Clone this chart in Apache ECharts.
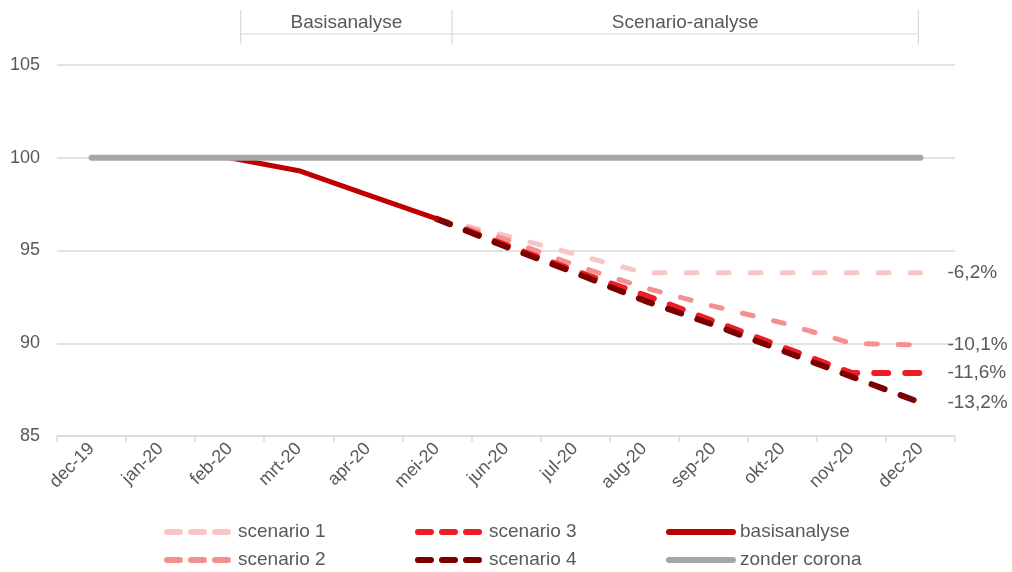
<!DOCTYPE html>
<html>
<head>
<meta charset="utf-8">
<script src="https://cdn.jsdelivr.net/npm/echarts@6/dist/echarts.min.js"></script>
<style>
html,body{margin:0;padding:0;background:#fff;}
#chart{width:1012px;height:572px;}
</style>
</head>
<body>
<div id="chart"></div>
<script>
// ---- data ----
const categories = ['dec-19','jan-20','feb-20','mrt-20','apr-20','mei-20','jun-20','jul-20','aug-20','sep-20','okt-20','nov-20','dec-20'];
const zonderCorona = [100,100,100,100,100,100,100,100,100,100,100,100,100];
const basisanalyse = [null,null,100,99.3,98.0,96.7,null,null,null,null,null,null,null];
const scenario1 = [null,null,null,null,null,96.7,95.8,94.8,93.8,93.8,93.8,93.8,93.8];
const scenario2 = [null,null,null,null,null,96.7,95.6,94.2,93.0,92.0,91.1,90.0,89.9];
const scenario3 = [null,null,null,null,null,96.7,95.3,93.9,92.6,91.2,89.8,88.4,88.4];
const scenario4 = [null,null,null,null,null,96.7,95.2,93.8,92.3,91.0,89.6,88.2,86.8];
const endLabels = ['-6,2%','-10,1%','-11,6%','-13,2%'];
const seriesNames = ['scenario 1','scenario 2','scenario 3','scenario 4','basisanalyse','zonder corona'];
const phases = [
  {name:'Basisanalyse', from:'feb-20', to:'mei-20'},
  {name:'Scenario-analyse', from:'mei-20', to:'dec-20'}
];
const yMin = 85, yMax = 105, yStep = 5;

// ---- styling ----
const FONT = '"Liberation Sans", Arial, sans-serif';
const TXT = '#595959';
const GRID = '#d9d9d9';
const colors = ['#f8c6c6','#f49090','#ee1c24','#7b0000','#c00000','#a6a6a6'];

function dashed(name, data, color, width, dash, label) {
  return {
    name, type:'line', data, symbol:'none', connectNulls:false,
    lineStyle:{color, width, type:dash, cap:'round', join:'round'},
    itemStyle:{color},
    endLabel:{show:true, formatter:label, color:TXT, fontSize:19, fontFamily:FONT, distance:27},
    emphasis:{disabled:true}
  };
}

const legendBase = {
  orient:'vertical', top:522, height:60, padding:0, itemWidth:64, itemHeight:14, itemGap:8,
  textStyle:{color:TXT, fontSize:19, fontFamily:FONT, lineHeight:20, padding:[0,0,0,2]},
  itemStyle:{opacity:0},
  selectedMode:false
};

const chart = echarts.init(document.getElementById('chart'), null, {renderer:'canvas'});
chart.setOption({
  animation:false,
  color:colors,
  grid:{left:57, right:57, top:65, bottom:136, containLabel:false},
  xAxis:{
    type:'category', data:categories, boundaryGap:true,
    axisLine:{lineStyle:{color:GRID, width:1.5}},
    axisTick:{show:true, length:6, interval:0, lineStyle:{color:GRID, width:1.5}},
    axisLabel:{rotate:45, color:TXT, fontSize:18, fontFamily:FONT, margin:10, interval:0}
  },
  yAxis:{
    type:'value', min:yMin, max:yMax, interval:yStep,
    axisLine:{show:false}, axisTick:{show:false},
    axisLabel:{color:TXT, fontSize:18, fontFamily:FONT, margin:17},
    splitLine:{lineStyle:{color:GRID, width:1.5}}
  },
  legend:[
    Object.assign({}, legendBase, {left:164, data:[seriesNames[0], seriesNames[1]], lineStyle:{type:[13,11], cap:'round', width:6}}),
    Object.assign({}, legendBase, {left:415, data:[seriesNames[2], seriesNames[3]], lineStyle:{type:[13,11], cap:'round', width:6}}),
    Object.assign({}, legendBase, {left:666, data:[seriesNames[4], seriesNames[5]], lineStyle:{width:6, cap:'round'}})
  ],
  series:[
    dashed(seriesNames[0], scenario1, colors[0], 5, [11,21], endLabels[0]),
    dashed(seriesNames[1], scenario2, colors[1], 5, [11,21], endLabels[1]),
    dashed(seriesNames[2], scenario3, colors[2], 6, [14,17], endLabels[2]),
    dashed(seriesNames[3], scenario4, colors[3], 6, [14,17], endLabels[3]),
    {name:seriesNames[4], type:'line', data:basisanalyse, symbol:'none',
     lineStyle:{color:colors[4], width:5, cap:'round', join:'round'}, itemStyle:{color:colors[4]}, emphasis:{disabled:true}},
    {name:seriesNames[5], type:'line', data:zonderCorona, symbol:'none',
     lineStyle:{color:colors[5], width:6, cap:'round'}, itemStyle:{color:colors[5]}, emphasis:{disabled:true}}
  ]
});

// ---- phase bracket at top, positioned from the category axis ----
function catX(name, shift) {
  const i = categories.indexOf(name);
  const a = chart.convertToPixel({xAxisIndex:0}, i);
  const b = chart.convertToPixel({xAxisIndex:0}, i + 1 < categories.length ? i + 1 : i - 1);
  const band = Math.abs(b - a);
  return a + shift * band;
}
const shifts = {'feb-20':0.16, 'mei-20':0.22, 'dec-20':-0.03};
const lineY = 34, tickTop = 10, tickBottom = 44, textY = 23;
const gfx = [];
const xs = [catX(phases[0].from, shifts[phases[0].from])];
phases.forEach(p => xs.push(catX(p.to, shifts[p.to])));
gfx.push({type:'line', shape:{x1:xs[0], y1:lineY, x2:xs[xs.length-1], y2:lineY}, style:{stroke:GRID, lineWidth:1.2}});
xs.forEach(x => gfx.push({type:'line', shape:{x1:x, y1:tickTop, x2:x, y2:tickBottom}, style:{stroke:GRID, lineWidth:1.2}}));
phases.forEach((p, k) => {
  gfx.push({type:'text', x:(xs[k] + xs[k+1]) / 2, y:textY,
    style:{text:p.name, fill:TXT, font:'19px ' + FONT, textAlign:'center', textVerticalAlign:'middle'}});
});
chart.setOption({graphic:gfx});
</script>
</body>
</html>
